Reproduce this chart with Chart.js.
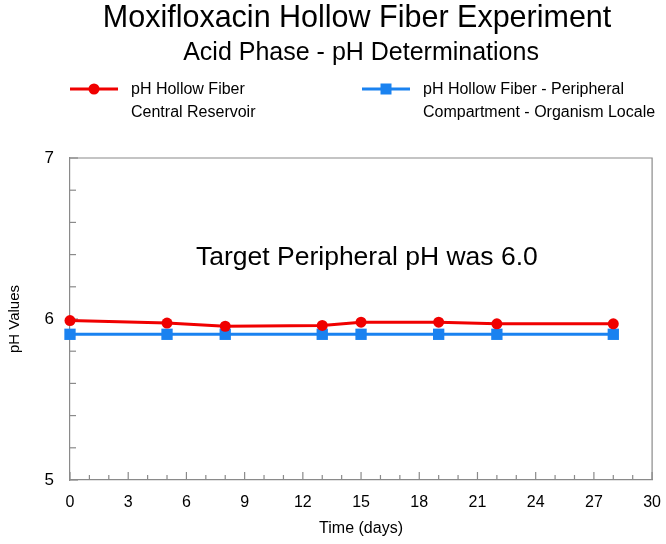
<!DOCTYPE html>
<html>
<head>
<meta charset="utf-8">
<script src="https://cdn.jsdelivr.net/npm/chart.js@4.4.0/dist/chart.umd.min.js"></script>
<style>
  html,body{margin:0;padding:0;background:#fff;}
  #wrap{width:666px;height:544px;}
</style>
</head>
<body>
<div id="wrap"><canvas id="chart" width="666" height="544"></canvas></div>
<script>
// ===== DATA =====
const days = [0, 5, 8, 13, 15, 19, 22, 28];
const centralPH = [5.99, 5.975, 5.955, 5.96, 5.98, 5.98, 5.97, 5.97];
const peripheralPH = [5.905, 5.905, 5.905, 5.905, 5.905, 5.905, 5.905, 5.905];
const centralLabel = ['pH Hollow Fiber', 'Central Reservoir'];
const peripheralLabel = ['pH Hollow Fiber - Peripheral', 'Compartment - Organism Locale'];
const titleText = 'Moxifloxacin Hollow Fiber Experiment';
const subtitleText = 'Acid Phase - pH Determinations';
const noteText = 'Target Peripheral pH was 6.0';

const FONT = '"Liberation Sans", Arial, Helvetica, sans-serif';
const RED = '#f00000';
const BLUE = '#1a82f0';
const AXIS = '#8a8a8a';

// ===== PLUGIN: titles, legend, box, inward ticks, note =====
const decor = {
  id: 'decor',
  beforeDatasetsDraw(chart){
    const ctx = chart.ctx;
    const a = chart.chartArea;
    const xs = chart.scales.x, ys = chart.scales.y;
    ctx.save();
    ctx.strokeStyle = AXIS;
    ctx.lineWidth = 1.2;
    // top + right of box
    ctx.beginPath();
    ctx.moveTo(a.left, a.top); ctx.lineTo(a.right, a.top); ctx.lineTo(a.right, a.bottom);
    ctx.stroke();
    // x ticks (every day, longer each 3)
    for(let d = xs.min; d <= xs.max; d++){
      const px = xs.getPixelForValue(d);
      const len = d % 3 === 0 ? 8 : 5;
      ctx.beginPath(); ctx.moveTo(px, a.bottom); ctx.lineTo(px, a.bottom - len); ctx.stroke();
    }
    // y ticks (every 0.2)
    for(let i = 0; i <= 10; i++){
      const v = ys.min + i * 0.2;
      const py = ys.getPixelForValue(v);
      const len = i % 5 === 0 ? 8 : 6;
      ctx.beginPath(); ctx.moveTo(a.left, py); ctx.lineTo(a.left + len, py); ctx.stroke();
    }
    // note
    ctx.fillStyle = '#000';
    ctx.font = '26.5px ' + FONT;
    ctx.textAlign = 'center';
    ctx.textBaseline = 'middle';
    ctx.fillText(noteText, xs.getPixelForValue(15.3), ys.getPixelForValue(6.38));
    ctx.restore();
  },
  afterDraw(chart){
    const ctx = chart.ctx;
    const a = chart.chartArea;
    const cx = (a.left + a.right) / 2;
    ctx.save();
    ctx.fillStyle = '#000';
    ctx.textAlign = 'center';
    ctx.textBaseline = 'middle';
    ctx.font = '30.5px ' + FONT;
    ctx.fillText(titleText, cx - 4, 19);
    ctx.font = '25px ' + FONT;
    ctx.fillText(subtitleText, cx, 53);

    // legend
    const items = [
      {x: 70, ds: chart.data.datasets[0]},
      {x: 362, ds: chart.data.datasets[1]}
    ];
    items.forEach(it => {
      const y = 89;
      ctx.strokeStyle = it.ds.borderColor;
      ctx.lineWidth = 3;
      ctx.beginPath(); ctx.moveTo(it.x, y); ctx.lineTo(it.x + 48, y); ctx.stroke();
      ctx.fillStyle = it.ds.borderColor;
      const mx = it.x + 24;
      if(it.ds.pointStyle === 'circle'){
        ctx.beginPath(); ctx.arc(mx, y, 5.5, 0, Math.PI * 2); ctx.fill();
      } else {
        ctx.fillRect(mx - 5.5, y - 5.5, 11, 11);
      }
      ctx.fillStyle = '#000';
      ctx.textAlign = 'left';
      ctx.font = '16px ' + FONT;
      it.ds.label.forEach((line, i) => ctx.fillText(line, it.x + 61, y + 1 + i * 23));
    });
    ctx.restore();
  }
};

// ===== CHART =====
new Chart(document.getElementById('chart'), {
  type: 'line',
  data: {
    datasets: [
      {
        label: centralLabel,
        data: days.map((d, i) => ({x: d, y: centralPH[i]})),
        borderColor: RED,
        backgroundColor: RED,
        borderWidth: 3,
        pointStyle: 'circle',
        pointRadius: 5.5,
        pointBorderWidth: 0,
        tension: 0,
        clip: false
      },
      {
        label: peripheralLabel,
        data: days.map((d, i) => ({x: d, y: peripheralPH[i]})),
        borderColor: BLUE,
        backgroundColor: BLUE,
        borderWidth: 3,
        pointStyle: 'rect',
        pointRadius: 8,
        pointBorderWidth: 0,
        tension: 0,
        clip: false
      }
    ]
  },
  options: {
    responsive: false,
    animation: false,
    layout: {padding: {top: 158, right: 10, left: 0, bottom: 0}},
    plugins: {
      legend: {display: false},
      tooltip: {enabled: false}
    },
    scales: {
      x: {
        type: 'linear',
        min: 0, max: 30,
        afterFit: s => { s.height = 64; },
        grid: {display: false},
        border: {display: true, color: AXIS, width: 1.2},
        ticks: {
          stepSize: 3, autoSkip: false, maxRotation: 0,
          color: '#000', padding: 5,
          font: {family: FONT, size: 16}
        },
        title: {
          display: true, text: 'Time (days)', color: '#000',
          font: {family: FONT, size: 16}, padding: {top: 4, bottom: 6}
        }
      },
      y: {
        min: 5, max: 7,
        afterFit: s => { s.width = 70; },
        grid: {display: false},
        border: {display: true, color: AXIS, width: 1.2},
        ticks: {
          stepSize: 1, color: '#000', padding: 8,
          font: {family: FONT, size: 17}
        },
        title: {
          display: true, text: 'pH Values', color: '#000',
          font: {family: FONT, size: 15}, padding: {top: 6, bottom: 4}
        }
      }
    }
  },
  plugins: [decor]
});
</script>
</body>
</html>
